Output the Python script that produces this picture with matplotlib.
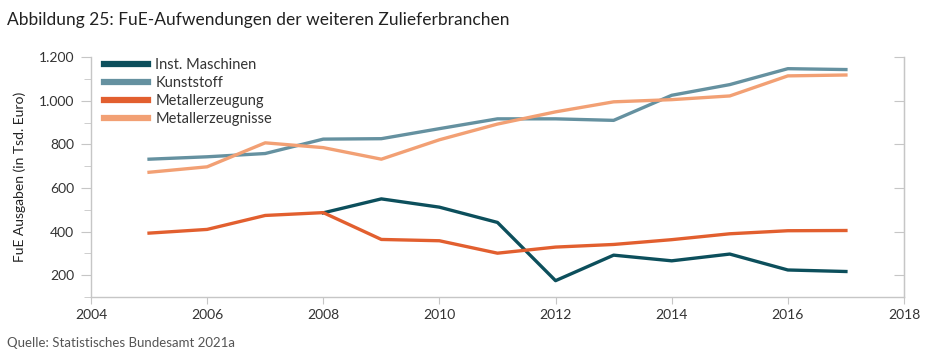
import matplotlib.pyplot as plt
from matplotlib.ticker import FuncFormatter, MultipleLocator

plt.rcParams['font.family'] = ['Lato', 'DejaVu Sans']

# FuE-Aufwendungen in Tsd. Euro
years = list(range(2005, 2018))
years_maschinen = list(range(2008, 2018))
inst_maschinen = [486, 550, 512, 442, 175, 292, 266, 297, 224, 217]
kunststoff = [732, 743, 758, 824, 826, 872, 917, 917, 910, 1025, 1074, 1147, 1143]
metallerzeugung = [393, 410, 474, 487, 364, 358, 301, 329, 341, 363, 390, 404, 405]
metallerzeugnisse = [672, 697, 807, 785, 732, 821, 893, 949, 995, 1005, 1022, 1114, 1118]

labels = ['Inst. Maschinen', 'Kunststoff', 'Metallerzeugung', 'Metallerzeugnisse']
colors = ['#0c4f5c', '#6591a0', '#e25f2f', '#f2a074']

fig = plt.figure(figsize=(9.31, 3.57), dpi=100)
ax = fig.add_axes([0.0977, 0.168, 0.8733, 0.672])

ax.plot(years_maschinen, inst_maschinen, color=colors[0], lw=2.4, label=labels[0])
ax.plot(years, kunststoff, color=colors[1], lw=2.4, label=labels[1])
ax.plot(years, metallerzeugung, color=colors[2], lw=2.4, label=labels[2])
ax.plot(years, metallerzeugnisse, color=colors[3], lw=2.4, label=labels[3])

ax.set_xlim(2004, 2018)
ax.set_ylim(100, 1200)
ax.xaxis.set_major_locator(MultipleLocator(2))
ax.yaxis.set_major_locator(MultipleLocator(200))
ax.yaxis.set_minor_locator(MultipleLocator(100))
ax.yaxis.set_major_formatter(FuncFormatter(lambda v, p: f'{int(v):,}'.replace(',', '.')))

grey = '#c6c6c6'
ax.spines['top'].set_visible(False)
for s in ['left', 'bottom', 'right']:
    ax.spines[s].set_color(grey)
    ax.spines[s].set_linewidth(1.0)

ax.tick_params(axis='both', which='both', color=grey, labelsize=10, labelcolor='#333333')
ax.tick_params(axis='y', which='major', length=7, pad=5)
ax.tick_params(axis='y', which='minor', length=5)
ax.tick_params(axis='x', which='major', length=5)

# right spine carries inward major ticks
ax2 = ax.secondary_yaxis('right')
ax2.yaxis.set_major_locator(MultipleLocator(200))
ax2.tick_params(axis='y', which='major', direction='in', length=7, color=grey, labelright=False)
ax2.spines['right'].set_color(grey)

ax.set_ylabel('FuE Ausgaben (in Tsd. Euro)', fontsize=10, color='#222222', labelpad=9)

leg = ax.legend(loc='upper left', bbox_to_anchor=(0.004, 1.04), frameon=False, fontsize=10.5,
                handlelength=3.0, handletextpad=0.5, labelspacing=0.28, borderaxespad=0.3)
for line in leg.get_lines():
    line.set_linewidth(4.5)
for t in leg.get_texts():
    t.set_color('#333333')

fig.text(0.0075, 0.945, 'Abbildung 25: FuE-Aufwendungen der weiteren Zulieferbranchen',
         fontsize=12.5, color='#222222', va='center')
fig.text(0.0075, 0.04, 'Quelle: Statistisches Bundesamt 2021a',
         fontsize=9.5, color='#555555', va='center')

fig.savefig('out.png', dpi=100)
